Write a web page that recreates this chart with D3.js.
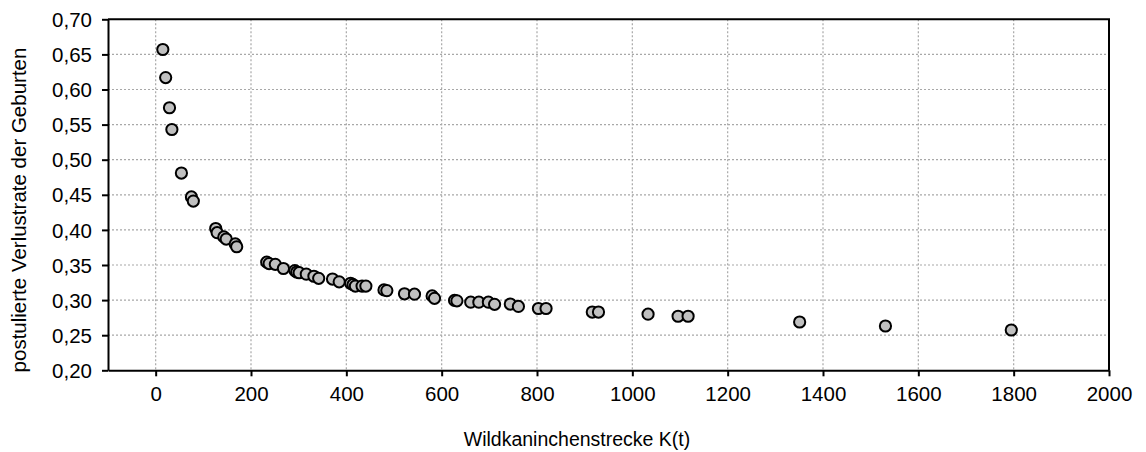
<!DOCTYPE html>
<html>
<head>
<meta charset="utf-8">
<script src="https://cdn.jsdelivr.net/npm/d3@7"></script>
<style>
  html, body { margin: 0; padding: 0; background: #fff; }
  svg { display: block; }
  text { font-family: "Liberation Sans", Arial, sans-serif; fill: #000; }
</style>
</head>
<body>
<svg id="chart" width="1146" height="452"></svg>
<script>
// Wildkaninchenstrecke K(t) against the postulated loss rate of births
const strecke = [15, 21, 29, 34, 54, 75, 79, 126, 129, 143, 148, 167, 170,
  233, 238, 251, 268, 292, 296, 301, 316, 332, 342, 371, 385, 409, 414, 419, 433, 441,
  479, 485, 522, 543, 580, 585, 627, 632, 661, 678, 698, 711, 744, 761, 803, 819,
  916, 929, 1033, 1096, 1117, 1351, 1531, 1795];
const verlustrate = [0.657, 0.617, 0.574, 0.543, 0.481, 0.447, 0.441, 0.402, 0.396, 0.390, 0.387, 0.380, 0.376,
  0.354, 0.352, 0.351, 0.345, 0.342, 0.340, 0.339, 0.337, 0.334, 0.331, 0.330, 0.326, 0.324, 0.322, 0.320, 0.320, 0.320,
  0.3145, 0.3135, 0.309, 0.3085, 0.306, 0.3025, 0.2995, 0.299, 0.297, 0.297, 0.297, 0.294, 0.2944, 0.291, 0.288, 0.288,
  0.283, 0.283, 0.280, 0.277, 0.277, 0.2688, 0.2631, 0.2574];
const xTicks = [0, 200, 400, 600, 800, 1000, 1200, 1400, 1600, 1800, 2000];
const yTicks = [0.20, 0.25, 0.30, 0.35, 0.40, 0.45, 0.50, 0.55, 0.60, 0.65, 0.70];
const xTitle = "Wildkaninchenstrecke K(t)";
const yTitle = "postulierte Verlustrate der Geburten";

const svg = d3.select("#chart");
const plot = { left: 108, right: 1109, top: 19.3, bottom: 370.3 };

const x = d3.scaleLinear().domain([-100, 2000]).range([plot.left, plot.right]);
const y = d3.scaleLinear().domain([0.20, 0.70]).range([plot.bottom, plot.top]);
const fmt = d3.format(".2f");

// dotted grid
const grid = svg.append("g").attr("stroke", "#a8a8a8").attr("stroke-width", 1.2)
  .attr("stroke-dasharray", "2,2");
grid.selectAll("line.v").data(xTicks.filter(t => t < 2000)).join("line")
  .attr("class", "v")
  .attr("x1", d => x(d)).attr("x2", d => x(d))
  .attr("y1", plot.top).attr("y2", plot.bottom);
grid.selectAll("line.h").data(yTicks.filter(t => t > 0.2 && t < 0.7)).join("line")
  .attr("class", "h")
  .attr("x1", plot.left).attr("x2", plot.right)
  .attr("y1", d => y(d)).attr("y2", d => y(d));

// frame: top and right border
svg.append("path")
  .attr("d", `M${plot.left},${plot.top}H${plot.right}V${plot.bottom}`)
  .attr("fill", "none").attr("stroke", "#000").attr("stroke-width", 2);

// axes
const xAxis = svg.append("g")
  .attr("transform", `translate(0,${plot.bottom})`)
  .call(d3.axisBottom(x).tickValues(xTicks).tickSize(6).tickPadding(10).tickSizeOuter(0)
    .tickFormat(d3.format("d")));
const yAxis = svg.append("g")
  .attr("transform", `translate(${plot.left},0)`)
  .call(d3.axisLeft(y).tickValues(yTicks).tickSize(6).tickPadding(10).tickSizeOuter(0)
    .tickFormat(d => fmt(d).replace(".", ",")));

[xAxis, yAxis].forEach(a => {
  a.select(".domain").attr("stroke", "#000").attr("stroke-width", 2);
  a.selectAll(".tick line").attr("stroke", "#000").attr("stroke-width", 2);
  a.selectAll(".tick text")
    .style("font-family", '"Liberation Sans", Arial, sans-serif')
    .style("font-size", "20.5px").attr("fill", "#000");
});
yAxis.selectAll(".tick text").attr("dy", "0.35em");
xAxis.selectAll(".tick text").attr("dy", "0.71em");

// axis titles
svg.append("text")
  .attr("x", 577).attr("y", 446)
  .attr("text-anchor", "middle")
  .style("font-size", "19.5px")
  .text(xTitle);
svg.append("text")
  .attr("transform", `translate(26,210) rotate(-90)`)
  .attr("text-anchor", "middle")
  .style("font-size", "20.5px")
  .text(yTitle);

// data points
const pts = strecke.map((k, i) => ({ k, v: verlustrate[i] }));
svg.append("g").selectAll("circle").data(pts).join("circle")
  .attr("cx", d => x(d.k)).attr("cy", d => y(d.v))
  .attr("r", 5.6)
  .attr("fill", "#c0c0c0").attr("stroke", "#000").attr("stroke-width", 2);
</script>
</body>
</html>
